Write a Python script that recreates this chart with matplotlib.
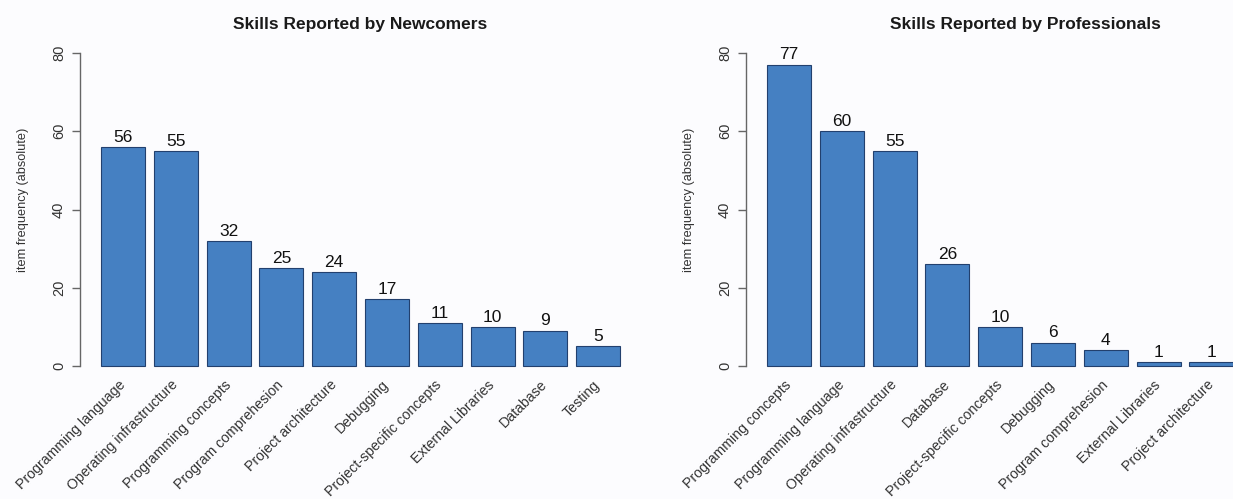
import matplotlib.pyplot as plt

plt.rcParams['font.family'] = ['Liberation Sans', 'DejaVu Sans']

# newcomers
new_skills = ['Programming language', 'Operating infrastructure', 'Programming concepts',
              'Program comprehesion', 'Project architecture', 'Debugging',
              'Project-specific concepts', 'External Libraries', 'Database', 'Testing']
new_counts = [56, 55, 32, 25, 24, 17, 11, 10, 9, 5]

# professionals
pro_skills = ['Programming concepts', 'Programming language', 'Operating infrastructure',
              'Database', 'Project-specific concepts', 'Debugging',
              'Program comprehesion', 'External Libraries', 'Project architecture']
pro_counts = [77, 60, 55, 26, 10, 6, 4, 1, 1]

titles = ['Skills Reported by Newcomers', 'Skills Reported by Professionals']

W, H = 1233, 499
fig = plt.figure(figsize=(W / 100, H / 100), dpi=100)
fig.patch.set_facecolor('#fcfcfe')

bar_col = '#4580c2'
edge_col = '#22406e'
axis_col = '#666666'


def draw(left_px, skills, counts, title):
    ax = fig.add_axes([left_px / W, (H - 378.5) / H, 570 / W, 338 / H])
    ax.set_facecolor('#fcfcfe')
    # R style bar positions: width 1, space 0.2
    xs = [0.2 + 1.2 * i for i in range(len(counts))]
    ax.bar(xs, counts, width=1, align='edge', color=bar_col, edgecolor=edge_col, linewidth=0.8)
    for x, c in zip(xs, counts):
        ax.annotate(str(c), (x + 0.5, c), xytext=(0, 3.8), textcoords='offset points',
                    ha='center', va='baseline', fontsize=12.5, color='#111111')
    ax.set_xlim(-0.28, 12.68)
    ax.set_ylim(-3.2, 83.2)
    for s in ['top', 'right', 'bottom']:
        ax.spines[s].set_visible(False)
    ax.spines['left'].set_bounds(0, 80)
    ax.spines['left'].set_color(axis_col)
    ax.spines['left'].set_linewidth(1)
    ax.set_yticks([0, 20, 40, 60, 80])
    ax.tick_params(axis='y', length=6, width=1, color=axis_col, labelsize=10.5,
                   labelcolor='#333333', pad=4)
    for lab in ax.get_yticklabels():
        lab.set_rotation(90)
        lab.set_va('center')
    ax.set_xticks([x + 0.5 for x in xs])
    ax.set_xticklabels(skills, rotation=45, ha='right', va='center',
                       rotation_mode='anchor', fontsize=10.2, color='#333333')
    ax.tick_params(axis='x', length=0, pad=3)
    ax.set_ylabel('item frequency (absolute)', fontsize=9.2, color='#333333')
    ax.yaxis.set_label_coords(-51 / 570, (378.5 - 200) / 338)
    ax.set_title(title, fontsize=12.5, fontweight='bold', color='#1a1a1a', pad=8, x=0.491)
    return ax


draw(80, new_skills, new_counts, titles[0])
draw(746, pro_skills, pro_counts, titles[1])

fig.savefig('out.png', dpi=100, facecolor=fig.get_facecolor())
